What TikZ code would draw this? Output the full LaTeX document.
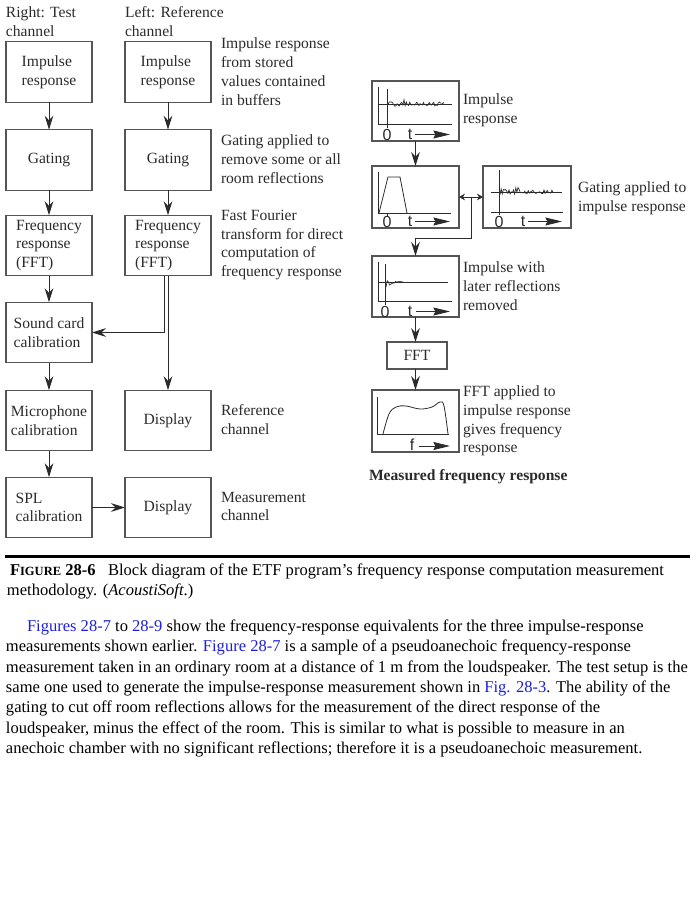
\documentclass[tikz,border=0pt]{standalone}
\usepackage{fontspec}
\setmainfont{Liberation Serif}
\newfontfamily\sansf{Liberation Sans}
\usetikzlibrary{arrows.meta}
\definecolor{ink}{HTML}{2B2B2B}
\definecolor{frame}{HTML}{555555}
\definecolor{linkblue}{RGB}{30,30,220}
\newcommand\diagfont{\fontsize{11.7pt}{14.1pt}\selectfont}
\newcommand\bodyfont{\fontsize{12.4pt}{15pt}\selectfont}
\newcommand\lk[1]{\textcolor{linkblue}{#1}}
\begin{document}
\begin{tikzpicture}[x=0.75pt,y=-0.75pt,
  every node/.style={inner sep=0pt,outer sep=0pt},
  box/.style={draw=frame,line width=0.85pt,text=ink,font=\diagfont,align=left,
              minimum width=64.5pt,minimum height=45.5pt},
  wbox/.style={draw=frame,line width=0.85pt,minimum width=65.25pt,minimum height=45pt},
  lbl/.style={text=ink,font=\diagfont,align=left,anchor=west},
  arr/.style={draw=ink,line width=0.75pt,-{Stealth[length=10.5pt,width=6.5pt,inset=3.5pt]}},
  dbl/.style={draw=ink,line width=0.7pt,{Stealth[length=4.5pt,width=5pt,inset=1.5pt]}-{Stealth[length=4.5pt,width=5pt,inset=1.5pt]}},
  ax/.style={draw=ink,line width=0.6pt},
  wv/.style={draw=ink,line width=0.5pt},
  tarr/.style={draw=ink,line width=0.6pt,-{Stealth[length=12.5pt,width=6pt,inset=1.5pt]}},
  sm/.style={text=ink,font=\sansf\fontsize{12pt}{13pt}\selectfont},
  body/.style={anchor=base west,font=\bodyfont}
]
\useasboundingbox (0,0) rectangle (695,900);
\pgfmathsetseed{11}

% ---------- left block diagram ----------
\node[lbl] (h1) at (6,21.5) {Right: Test\\channel};
\node[lbl] (h2) at (125,21.5) {Left: Reference\\channel};

\node[box] (L1) at (49,72) {Impulse\\response};
\node[box] (R1) at (168,72) {Impulse\\response};
\node[box] (L2) at (49,160) {Gating};
\node[box] (R2) at (168,160) {Gating};
\node[box] (L3) at (49,245.5) {Frequency\\response\\(FFT)};
\node[box] (R3) at (168,245.5) {Frequency\\response\\(FFT)};
\node[box] (L4) at (49,332.5) {Sound card\\calibration};
\node[box] (L5) at (49,420.5) {Microphone\\calibration};
\node[box] (R5) at (168,420.5) {Display};
\node[box] (L6) at (49,507.5) {SPL\\calibration};
\node[box] (R6) at (168,507.5) {Display};

\node[lbl] (t1) at (221,71.5) {Impulse response\\from stored\\values contained\\in buffers};
\node[lbl] (t2) at (221,159) {Gating applied to\\remove some or all\\room reflections};
\node[lbl] (t3) at (221,245) {Fast Fourier\\transform for direct\\computation of\\frequency response};
\node[lbl] (t4) at (221,419.5) {Reference\\channel};
\node[lbl] (t5) at (221,506.5) {Measurement\\channel};

\draw[arr] (L1) -- (L2);
\draw[arr] (L2) -- (L3);
\draw[arr] (L3) -- (L4);
\draw[arr] (L4) -- (L5);
\draw[arr] (L5) -- (L6);
\draw[arr] (R1) -- (R2);
\draw[arr] (R2) -- (R3);
\draw[arr] ([xshift=-2.6pt]R3.south) |- (L4.east);
\draw[arr] (R3.south) -- (R5.north);
\draw[arr] (L6) -- (R6);

% ---------- right flow ----------
\node[wbox] (W1) at (415.5,111) {};
\node[wbox,minimum height=46.5pt] (W2) at (415.5,197) {};
\node[wbox,minimum width=66pt,minimum height=46.5pt] (W3) at (527,197) {};
\node[wbox,minimum height=45.75pt] (W4) at (415.5,286.5) {};
\node[box,minimum width=45pt,minimum height=20.25pt] (FFT) at (417,355.5) {FFT};
\node[wbox,minimum height=46.5pt] (W5) at (415.5,421) {};

\node[lbl] (r1) at (463,110.5) {Impulse\\response};
\node[lbl] (r2) at (578,198.5) {Gating applied to\\impulse response};
\node[lbl] (r3) at (463,286) {Impulse with\\later reflections\\removed};
\node[lbl] (r4) at (463,421) {FFT applied to\\impulse response\\gives frequency\\response};
\node[lbl,font=\diagfont\bfseries] (r5) at (369,477) {Measured frequency response};

\draw[arr] (W1) -- (W2);
\draw[dbl] (W2) -- (W3);
\coordinate (gm) at (471,197);
\coordinate (gb) at (471,238);
\draw[arr] (gm) -- (gb) -| (W4.north);
\draw[arr] (W4.south) -- (W4.south |- FFT.north);
\draw[arr] (W5.north |- FFT.south) -- (W5.north);

% waveform 1
\draw[ax] (378,87) -- (378,124) -- (452,124);
\draw[ax] (378,104) -- (452,104);
\draw[ax] (387,89) -- (387,128);
\draw[wv] plot[domain=388:444,samples=50] (\x,{104+(2.2+6*exp(-(\x-388)/3)+4*exp(-(\x-405)*(\x-405)/3))*rand});
\node[sm] (w1z) at (387,135) {0};
\node[sm] (w1t) at (410,134) {t};
\coordinate (w1a) at (415,134.5); \coordinate (w1b) at (450,134.5);
\draw[tarr] (w1a) -- (w1b);

% waveform 2 (gate)
\draw[ax] (378,172) -- (378,213) -- (451,213);
\draw[ax] (379,213) -- (388,177) -- (400,177) -- (407,213);
\draw[ax] (387,213) -- (387,217);
\node[sm] (w2z) at (387,222) {0};
\node[sm] (w2t) at (410,221) {t};
\coordinate (w2a) at (415,221.5); \coordinate (w2b) at (450,221.5);
\draw[tarr] (w2a) -- (w2b);

% waveform 3
\draw[ax] (491,192) -- (562,192);
\draw[ax] (491,212) -- (563,212);
\draw[ax] (499,170) -- (499,215);
\draw[wv] plot[domain=500:553,samples=48] (\x,{192+(2+5*exp(-(\x-500)/3)+4*exp(-(\x-517)*(\x-517)/3))*rand});
\node[sm] (w3z) at (499,222) {0};
\node[sm] (w3t) at (523,221) {t};
\coordinate (w3a) at (528,221.5); \coordinate (w3b) at (562,221.5);
\draw[tarr] (w3a) -- (w3b);

% waveform 4
\draw[ax] (378,262) -- (378,301) -- (452,301);
\draw[ax] (378,282) -- (448,282);
\draw[ax] (385,264) -- (385,305);
\draw[wv] plot[domain=386:403,samples=15] (\x,{282+(6*exp(-(\x-386)/6))*rand});
\node[sm] (w4z) at (385,312) {0};
\node[sm] (w4t) at (410,311) {t};
\coordinate (w4a) at (416,311.5); \coordinate (w4b) at (450,311.5);
\draw[tarr] (w4a) -- (w4b);

% waveform 5 (frequency response)
\draw[ax] (377,397) -- (377,434) -- (449,434);
\draw[ax] plot[smooth,tension=0.6] coordinates {(383,434) (389,414) (396,407) (406,406) (420,409) (432,407) (440,402) (444,406) (448,434)};
\node[sm] (w5f) at (412,445) {f};
\coordinate (w5a) at (419,446); \coordinate (w5b) at (450,446);
\draw[tarr] (w5a) -- (w5b);

% ---------- rule, caption, body ----------
\coordinate (ra) at (5,556.5); \coordinate (rb) at (690,556.5);
\draw[line width=2.2pt] (ra) -- (rb);
\node[body] (c1) at (10,575) {{\bfseries F{\fontsize{9.4pt}{10pt}\selectfont IGURE} 28-6}\hspace{0.75em}Block diagram of the ETF program’s frequency response computation measurement};
\node[body] (c2) at (7,595) {methodology. (\textit{AcoustiSoft}.)};

\node[body] (b1) at (27,631.5) {\lk{Figures 28-7} to \lk{28-9} show the frequency-response equivalents for the three impulse-response};
\node[body] (b2) at (6,651.8) {measurements shown earlier. \lk{Figure 28-7} is a sample of a pseudoanechoic frequency-response};
\node[body] (b3) at (6,672.1) {measurement taken in an ordinary room at a distance of 1 m from the loudspeaker. The test setup is the};
\node[body] (b4) at (6,692.4) {same one used to generate the impulse-response measurement shown in \lk{Fig. 28-3}. The ability of the};
\node[body] (b5) at (6,712.7) {gating to cut off room reflections allows for the measurement of the direct response of the};
\node[body] (b6) at (6,733) {loudspeaker, minus the effect of the room. This is similar to what is possible to measure in an};
\node[body] (b7) at (6,753.3) {anechoic chamber with no significant reflections; therefore it is a pseudoanechoic measurement.};
\end{tikzpicture}
\end{document}
